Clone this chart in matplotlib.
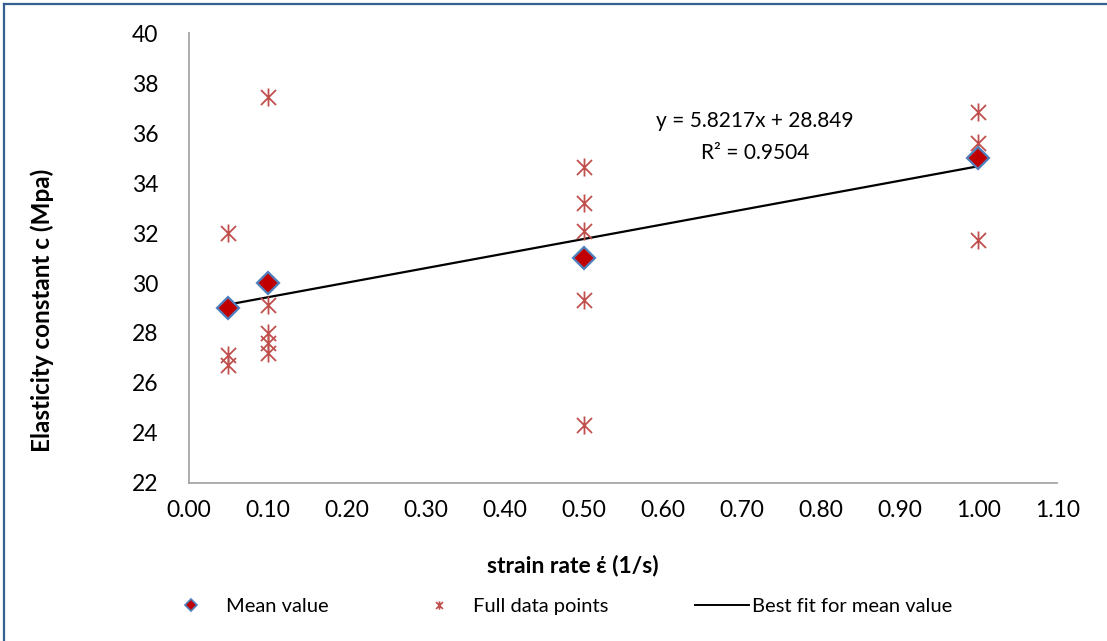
import matplotlib.pyplot as plt
import numpy as np
from matplotlib.path import Path
from matplotlib.lines import Line2D

plt.rcParams['font.family'] = ['Lato', 'DejaVu Sans']

# mean values per strain rate
mean_rate = [0.05, 0.10, 0.50, 1.00]
mean_c = [29.0, 30.0, 31.0, 35.0]

# all measured points
full_rate = [0.05, 0.05, 0.05,
             0.10, 0.10, 0.10, 0.10, 0.10,
             0.50, 0.50, 0.50, 0.50, 0.50,
             1.00, 1.00, 1.00]
full_c = [32.0, 27.1, 26.7,
          37.44, 29.12, 28.0, 27.6, 27.2,
          34.63, 33.21, 32.09, 29.32, 24.32,
          36.83, 35.59, 31.72]

x_ticks = [0.0, 0.1, 0.2, 0.3, 0.4, 0.5, 0.6, 0.7, 0.8, 0.9, 1.0, 1.1]
y_ticks = [22, 24, 26, 28, 30, 32, 34, 36, 38, 40]

# Excel-style asterisk marker: an X plus a vertical bar
star = Path([(-1, -1), (1, 1), (-1, 1), (1, -1), (0, -1.2), (0, 1.2)],
            [Path.MOVETO, Path.LINETO, Path.MOVETO, Path.LINETO, Path.MOVETO, Path.LINETO])

slope, intercept = np.polyfit(mean_rate, mean_c, 1)
pred = slope * np.array(mean_rate) + intercept
r2 = 1 - np.sum((np.array(mean_c) - pred) ** 2) / np.sum((np.array(mean_c) - np.mean(mean_c)) ** 2)

W, H = 1107, 641
fig = plt.figure(figsize=(W / 100, H / 100), dpi=100)
ax = fig.add_axes([0.1707, 0.2465, 0.7843, 0.702])

fit_x = np.array([min(mean_rate), max(mean_rate)])
ax.plot(fit_x, slope * fit_x + intercept, color='black', lw=1.6, zorder=2)
ax.plot(full_rate, full_c, ls='none', marker=star, ms=13, mfc='none',
        mec='#C0504D', mew=1.3, zorder=3)
ax.plot(mean_rate, mean_c, ls='none', marker='D', ms=11, mfc='#C00000',
        mec='#4F81BD', mew=1.6, zorder=4)

ax.text(0.717, 36.5, 'y = %.4fx + %.3f' % (slope, intercept), ha='center', va='center', fontsize=15)
ax.text(0.717, 35.2, 'R\u00b2 = %.4f' % r2, ha='center', va='center', fontsize=15)

ax.set_xlim(0, 1.1)
ax.set_ylim(22, 40)
ax.set_xticks(x_ticks)
ax.set_xticklabels(['%.2f' % v for v in x_ticks])
ax.set_yticks(y_ticks)
ax.tick_params(length=0, labelsize=16.5, pad=12)
ax.tick_params(axis='y', pad=22)
for s in ['top', 'right']:
    ax.spines[s].set_visible(False)
for s in ['left', 'bottom']:
    ax.spines[s].set_color('#A6A6A6')
    ax.spines[s].set_linewidth(1.3)

fig.text(573 / W, 1 - 565 / H, 'strain rate \u03ad (1/s)', fontsize=16.5, fontweight='bold',
         ha='center', va='center')
fig.text(42 / W, 1 - 310 / H, 'Elasticity constant c (Mpa)', fontsize=17.5, fontweight='bold',
         ha='center', va='center', rotation=90)

# legend entries placed one by one, as in the Excel chart
entries = [
    (Line2D([], [], ls='none', marker='D', ms=6, mfc='#C00000', mec='#4F81BD', mew=1.2),
     'Mean value', 181, 1.0, 1.25),
    (Line2D([], [], ls='none', marker=star, ms=6, mfc='none', mec='#C0504D', mew=1.2),
     'Full data points', 429, 1.0, 1.2),
    (Line2D([], [], color='black', lw=1.4),
     'Best fit for mean value', 695, 2.7, 0.15),
]
for h, label, x0, hl, pad in entries:
    fig.legend([h], [label], loc='center left', bbox_to_anchor=(x0 / W, 1 - 606 / H),
               frameon=False, fontsize=14.5, handlelength=hl, handletextpad=pad,
               borderpad=0, borderaxespad=0)

# frame around the chart (only left and top edges visible)
fig.add_artist(Line2D([0.004, 0.004], [0, 0.994], transform=fig.transFigure, color='#365F91', lw=1.6))
fig.add_artist(Line2D([0.004, 1], [0.994, 0.994], transform=fig.transFigure, color='#365F91', lw=1.6))

plt.savefig('out.png', dpi=100)
